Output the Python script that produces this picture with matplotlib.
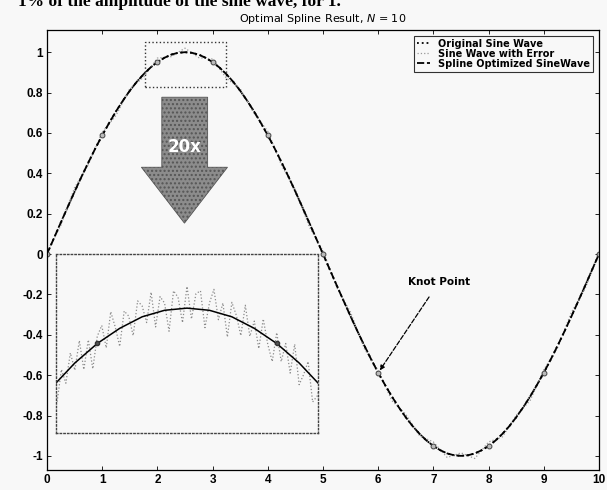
import numpy as np
import matplotlib
matplotlib.use("Agg")
import matplotlib.pyplot as plt
from matplotlib.patches import Polygon, Rectangle

plt.rcParams['font.family'] = ['DejaVu Sans']

# curve, x = 0..10 step 0.125
sine_x = np.arange(0, 10.0001, 0.125)
sine_y = [0.000, 0.078, 0.156, 0.233, 0.309, 0.383, 0.454, 0.523, 0.588,
          0.649, 0.707, 0.760, 0.809, 0.853, 0.891, 0.924, 0.951, 0.972,
          0.988, 0.997, 1.000, 0.997, 0.988, 0.972, 0.951, 0.924, 0.891,
          0.853, 0.809, 0.760, 0.707, 0.649, 0.588, 0.523, 0.454, 0.383,
          0.309, 0.233, 0.156, 0.078, 0.000, -0.078, -0.156, -0.233, -0.309,
          -0.383, -0.454, -0.523, -0.588, -0.649, -0.707, -0.760, -0.809,
          -0.853, -0.891, -0.924, -0.951, -0.972, -0.988, -0.997, -1.000,
          -0.997, -0.988, -0.972, -0.951, -0.924, -0.891, -0.853, -0.809,
          -0.760, -0.707, -0.649, -0.588, -0.523, -0.454, -0.383, -0.309,
          -0.233, -0.156, -0.078, 0.000]
spline_y = list(sine_y)

# noisy samples, x = 0..10 step 0.25
noisy_x = np.arange(0, 10.0001, 0.25)
noisy_y = [0.010, 0.141, 0.329, 0.444, 0.603, 0.687, 0.819, 0.876, 0.971,
           0.978, 1.020, 0.973, 0.966, 0.871, 0.819, 0.697, 0.608, 0.439,
           0.319, 0.136, 0.015, -0.166, -0.289, -0.469, -0.578, -0.727,
           -0.794, -0.901, -0.931, -1.008, -0.985, -1.013, -0.931, -0.906,
           -0.799, -0.727, -0.573, -0.464, -0.289, -0.171, 0.010]

# knot points (N = 10)
knot_x = [0, 1, 2, 3, 4, 5, 6, 7, 8, 9, 10]
knot_y = [0.0, 0.588, 0.951, 0.951, 0.588, 0.0, -0.588, -0.951, -0.951,
          -0.588, 0.0]

# zoomed samples near the peak, x = 1.75..3.25 step 0.025
zoom_x = np.arange(1.75, 3.2501, 0.025)
zoom_y = [0.871, 0.868, 0.915, 0.896, 0.938, 0.914, 0.955, 0.915, 0.956,
          0.916, 0.961, 0.976, 0.945, 0.995, 0.974, 0.947, 0.996, 0.989,
          0.962, 1.010, 1.003, 0.980, 1.022, 0.974, 1.016, 1.007, 0.968,
          1.024, 1.015, 0.980, 1.030, 0.985, 1.020, 1.024, 0.973, 1.007,
          1.026, 0.984, 1.007, 0.960, 1.008, 0.990, 0.962, 1.004, 0.961,
          0.982, 0.944, 0.985, 0.950, 0.926, 0.966, 0.926, 0.951, 0.910,
          0.950, 0.894, 0.908, 0.926, 0.870, 0.878, 0.901]

fig = plt.figure(figsize=(6.07, 4.90), dpi=100)
fig.patch.set_facecolor('#f8f8f8')
ax = fig.add_axes([47/607, 20/490, 552/607, 440/490])
ax.set_facecolor('#f8f8f8')

ax.plot(sine_x, sine_y, ':', color='black', lw=1.3, label='Original Sine Wave')
ax.plot(noisy_x, noisy_y, ':', color='#999999', lw=0.9, label='Sine Wave with Error')
ax.plot(sine_x, spline_y, '--', color='black', lw=1.3, dashes=(4, 1.5),
        label='Spline Optimized SineWave')
ax.plot(knot_x, knot_y, 'o', ms=3.5, mfc='#bbbbbb', mec='#444444', mew=0.7)

ax.set_xlim(0, 10)
ax.set_ylim(-1.07, 1.11)
ax.set_xticks(range(0, 11))
ax.set_yticks([-1, -0.8, -0.6, -0.4, -0.2, 0, 0.2, 0.4, 0.6, 0.8, 1])
ax.set_yticklabels(['-1', '-0.8', '-0.6', '-0.4', '-0.2', '0', '0.2', '0.4',
                    '0.6', '0.8', '1'])
ax.tick_params(direction='in', top=True, right=True, length=3, width=0.6,
               labelsize=8.5, pad=3)
for lab in ax.get_xticklabels() + ax.get_yticklabels():
    lab.set_fontweight('bold')
    lab.set_family(['Liberation Sans', 'DejaVu Sans'])
for s in ax.spines.values():
    s.set_linewidth(0.9)

ax.set_title('Optimal Spline Result, $\\mathit{N}$ = 10', fontsize=8, pad=6)

leg = ax.legend(loc='upper right', prop={'size': 7, 'weight': 'bold'},
                frameon=True, fancybox=False, edgecolor='black',
                handlelength=1.4, handletextpad=0.8, borderpad=0.3,
                labelspacing=0.0, borderaxespad=0.6)
leg.get_frame().set_linewidth(0.8)
leg.get_frame().set_facecolor('#f8f8f8')

# dotted box around the peak
ax.add_patch(Rectangle((1.77, 0.83), 1.48, 0.22, fill=False, ls=':',
                       ec='#333333', lw=1.0))

# big "20x" arrow
arrow = Polygon([(2.08, 0.777), (2.91, 0.777), (2.91, 0.43), (3.27, 0.43),
                 (2.49, 0.153), (1.71, 0.43), (2.08, 0.43)], closed=True,
                fc='#8c8c8c', ec='#555555', lw=0.6, hatch='....')
ax.add_patch(arrow)
ax.text(2.49, 0.53, '20x', color='white', fontsize=12, fontweight='bold',
        ha='center', va='center')

ax.annotate('Knot Point', xy=(6, -0.588), xytext=(7.1, -0.14),
            fontsize=7.5, fontweight='bold', ha='center', va='center',
            arrowprops=dict(arrowstyle='-|>', color='black', lw=0.9,
                            ls='--', shrinkA=6, shrinkB=2, mutation_scale=7))

# zoomed inset
ins = fig.add_axes([56/607, 57/490, 262/607, 179/490])
ins.set_facecolor('#f8f8f8')
ins.plot(zoom_x, zoom_y, ':', color='#8a8a8a', lw=0.9)
ins.plot(sine_x, spline_y, '-', color='black', lw=1.1)
ins.plot(knot_x, knot_y, 'o', ms=3, mfc='#555555', mec='#333333')
ins.set_xlim(1.77, 3.23)
ins.set_ylim(0.827, 1.075)
ins.set_xticks([])
ins.set_yticks([])
for s in ins.spines.values():
    s.set_linestyle(':')
    s.set_linewidth(1.0)
    s.set_edgecolor('#444444')

# cut-off caption line from the page above
fig.text(0.03, 1 - 6/490, '1% of the amplitude of the sine wave, for 1.',
         family=['Liberation Serif', 'DejaVu Serif'], fontsize=12.5,
         fontweight='bold', va='baseline', ha='left')

fig.savefig('out.png', dpi=100)
